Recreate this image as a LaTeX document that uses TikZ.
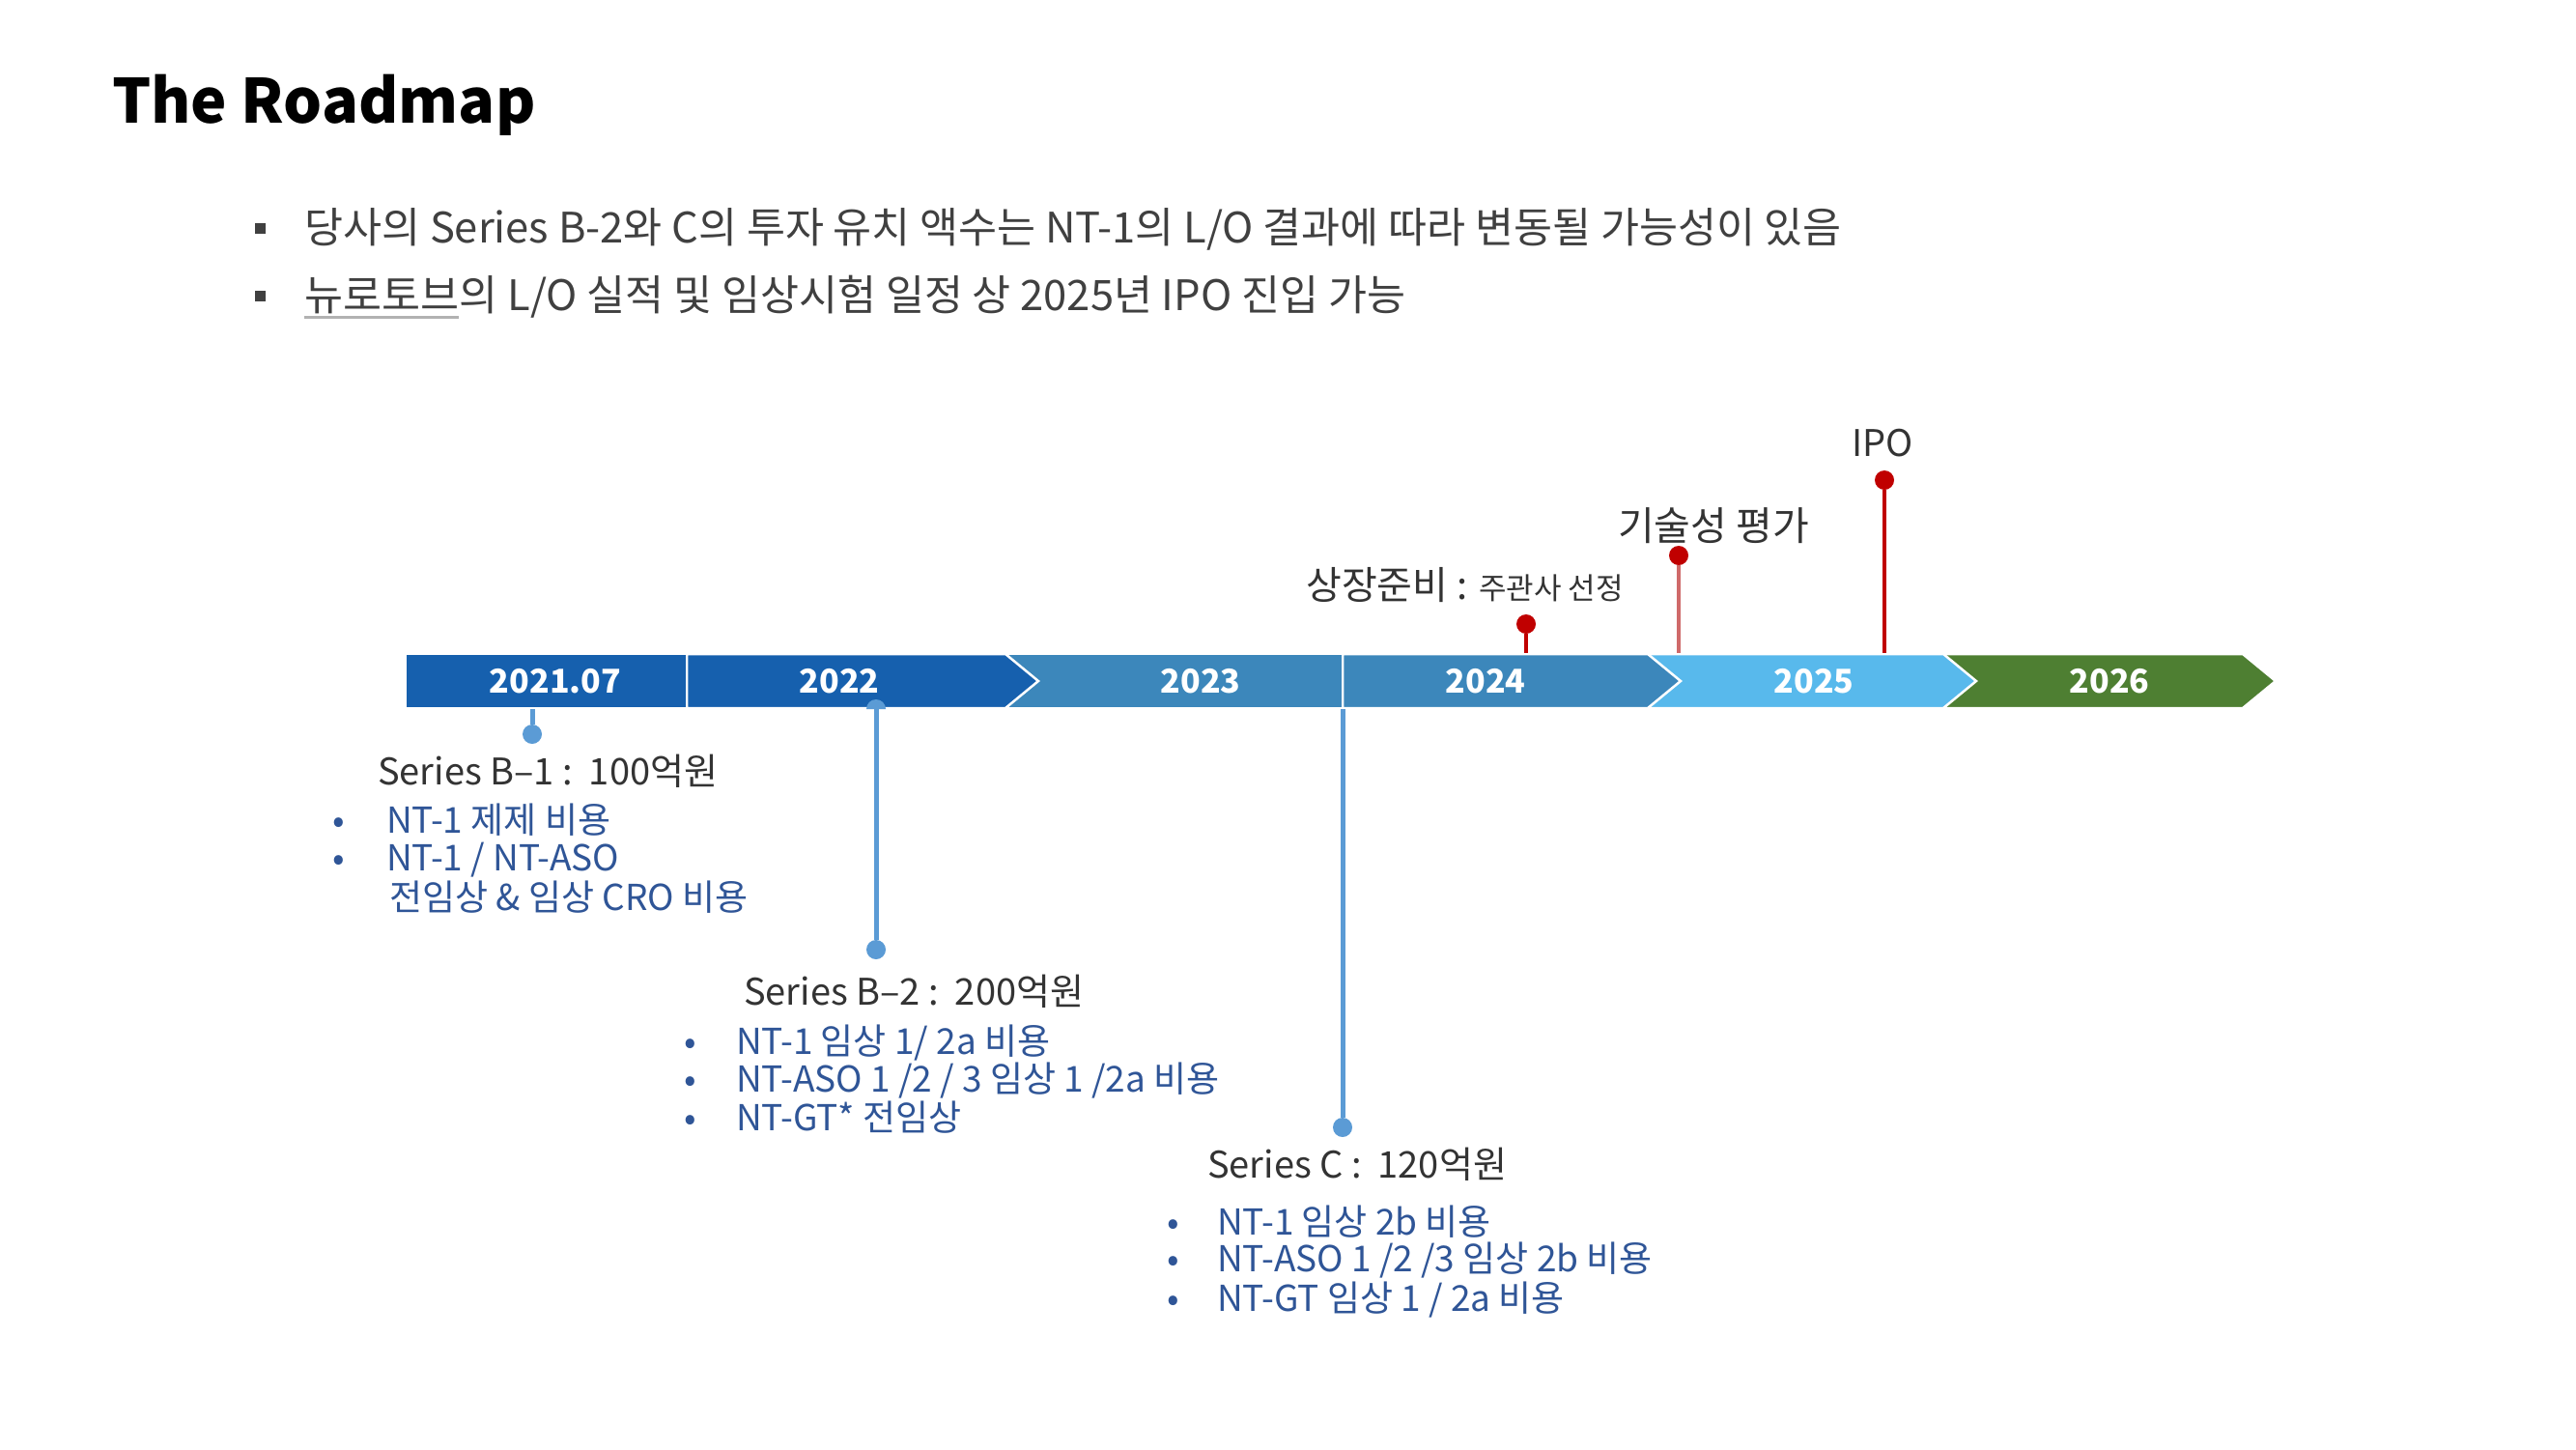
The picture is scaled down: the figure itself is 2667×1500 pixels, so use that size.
\documentclass[tikz,border=0pt]{standalone}
\usepackage{fontspec}
\setmainfont{Noto Sans CJK KR}
\definecolor{segA}{HTML}{1660AE}
\definecolor{segB}{HTML}{3C87BB}
\definecolor{segC}{HTML}{58B9EC}
\definecolor{segD}{HTML}{4E7F32}
\definecolor{itemblue}{HTML}{2F5597}
\definecolor{cblue}{HTML}{5B9BD5}
\definecolor{mred}{HTML}{C00000}
\definecolor{lred}{HTML}{CF6A6A}
\definecolor{hdrgray}{HTML}{333333}
\definecolor{bodygray}{HTML}{404040}
\begin{document}
\begin{tikzpicture}[x=1pt,y=-1pt,
  yr/.style={text=white,font=\fontsize{34}{40}\selectfont\bfseries,inner sep=0},
  seg/.style={draw=white,line width=2.5pt},
  bdot/.style={circle,fill=cblue,inner sep=0,minimum size=20},
  rdot/.style={circle,fill=mred,inner sep=0,minimum size=20},
  cline/.style={draw=cblue,line width=5},
  rline/.style={draw=mred,line width=4},
  hdr/.style={text=hdrgray,font=\fontsize{38}{42}\selectfont,anchor=base west,inner sep=0},
  item/.style={text=itemblue,font=\fontsize{37}{40}\selectfont,anchor=base west,inner sep=0},
  lbl/.style={text=hdrgray,font=\fontsize{38}{42}\selectfont,anchor=base,inner sep=0},
  body/.style={text=bodygray,font=\fontsize{43.5}{48}\selectfont,anchor=base west,inner sep=0},
  sq/.style={fill=bodygray,inner sep=0,minimum size=11}]
\useasboundingbox (0,0) rectangle (2667,1500);
\fill[white] (0,0) rectangle (2667,1500);

% title
\node[anchor=base west,inner sep=0,font=\fontsize{63}{72}\selectfont\bfseries] (title) at (116,127) {The Roadmap};

% main bullets
\node[sq] (sq1) at (269,236) {};
\node[body] (b1) at (315,251) {당사의 Series B-2와 C의 투자 유치 액수는 NT-1의 L/O 결과에 따라 변동될 가능성이 있음};
\node[sq] (sq2) at (269,306) {};
\node[body] (b2a) at (315,321) {뉴로토브};
\node[body] (b2b) at (b2a.base east) {의 L/O 실적 및 임상시험 일정 상 2025년 IPO 진입 가능};
\draw[gray!60,line width=3] ([yshift=-7pt]b2a.base west) -- ([yshift=-7pt]b2a.base east);

% timeline bar (right to left so chevron tips overlap)
\path[seg,fill=segD] (2012,677) -- (2322,677) -- (2356,705) -- (2322,733) -- (2012,733) -- cycle;
\path[seg,fill=segC] (1706,677) -- (2012,677) -- (2046,705) -- (2012,733) -- (1706,733) -- cycle;
\path[seg,fill=segB] (1390,677) -- (1706,677) -- (1740,705) -- (1706,733) -- (1390,733) -- cycle;
\path[seg,fill=segB] (1041,677) rectangle (1390,733);
\path[seg,fill=segA] (711,677) -- (1041,677) -- (1075,705) -- (1041,733) -- (711,733) -- cycle;
\path[seg,fill=segA] (420,677) rectangle (711,733);

\node[yr] (y1) at (575,705) {2021.07};
\node[yr] (y2) at (869,705) {2022};
\node[yr] (y3) at (1243,705) {2023};
\node[yr] (y4) at (1538,705) {2024};
\node[yr] (y5) at (1878,705) {2025};
\node[yr] (y6) at (2184,705) {2026};

% bar edge coordinates
\coordinate (bb1) at (551,734);
\coordinate (bb2) at (907,734);
\coordinate (bb3) at (1390,734);
\coordinate (bt1) at (1580,676);
\coordinate (bt2) at (1738,676);
\coordinate (bt3) at (1951,676);

% blue connectors
\node[bdot] (d1) at (551,760) {};
\node[bdot] (d2) at (907,983) {};
\node[bdot] (d3) at (1390,1167) {};
\draw[cline] (bb1) -- (d1);
\draw[cline] (bb2) -- (d2);
\draw[cline] (bb3) -- (d3);
\fill[cblue] (897,734) arc[start angle=180,end angle=360,radius=10] -- cycle;

% red markers
\node[rdot] (r1) at (1580,646) {};
\node[rdot] (r2) at (1738,575) {};
\node[rdot] (r3) at (1951,497) {};
\draw[rline] (r1) -- (bt1);
\draw[draw=lred,line width=4] (r2) -- (bt2);
\draw[rline] (r3) -- (bt3);
\node[lbl] (l3) at (1949,472) {IPO};
\node[lbl,font=\fontsize{41}{46}\selectfont] (l2) at (1774,559) {기술성 평가};
\node[hdr,font=\fontsize{40}{46}\selectfont] (l1) at (1352,620) {상장준비 : {\fontsize{31}{36}\selectfont 주관사 선정}};

% Series B-1
\node[hdr] (h1) at (391,812) {Series B–1 :\ \ 100억원};
\node[item] (i1a) at (344,862) {•};
\node[item] (t1a) at (400,862) {NT-1 제제 비용};
\node[item] (i1b) at (344,901) {•};
\node[item] (t1b) at (400,901) {NT-1 / NT-ASO};
\node[item] (t1c) at (403,942) {전임상 \& 임상 CRO 비용};

% Series B-2
\node[hdr] (h2) at (770,1040) {Series B–2 :\ \ 200억원};
\node[item] (i2a) at (708,1091) {•};
\node[item] (t2a) at (762,1091) {NT-1 임상 1/ 2a 비용};
\node[item] (i2b) at (708,1130) {•};
\node[item] (t2b) at (762,1130) {NT-ASO 1 /2 / 3 임상 1 /2a 비용};
\node[item] (i2c) at (708,1170) {•};
\node[item] (t2c) at (762,1170) {NT-GT* 전임상};

% Series C
\node[hdr] (h3) at (1250,1219) {Series C :\ \ 120억원};
\node[item] (i3a) at (1208,1278) {•};
\node[item] (t3a) at (1260,1278) {NT-1 임상 2b 비용};
\node[item] (i3b) at (1208,1316) {•};
\node[item] (t3b) at (1260,1316) {NT-ASO 1 /2 /3 임상 2b 비용};
\node[item] (i3c) at (1208,1357) {•};
\node[item] (t3c) at (1260,1357) {NT-GT 임상 1 / 2a 비용};
\end{tikzpicture}
\end{document}
